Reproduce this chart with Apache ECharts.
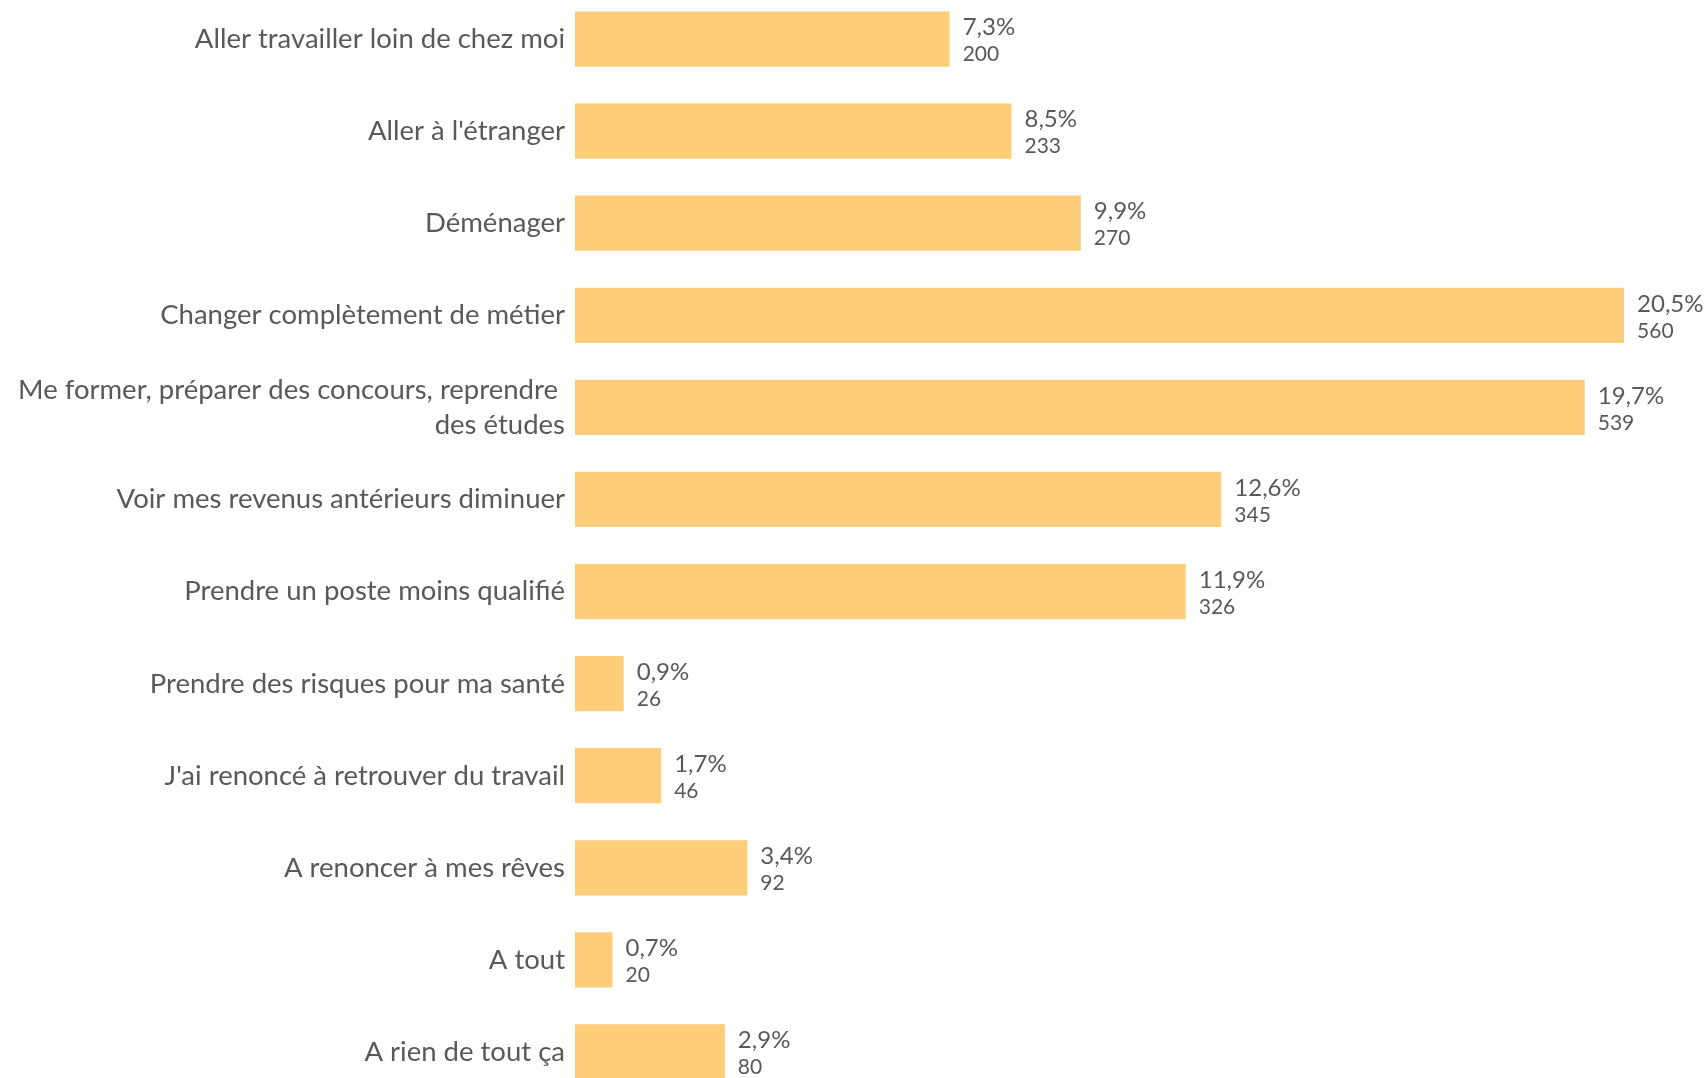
<!DOCTYPE html>
<html><head><meta charset="utf-8">
<script src="https://cdn.jsdelivr.net/npm/echarts@6/dist/echarts.min.js"></script>
<style>html,body{margin:0;padding:0;background:#fff}#c{width:1708px;height:1078px}</style>
</head><body><div id="c"></div>
<script>
const categories = [
  "Aller travailler loin de chez moi",
  "Aller à l'étranger",
  "Déménager",
  "Changer complètement de métier",
  "Me former, préparer des concours, reprendre \ndes études",
  "Voir mes revenus antérieurs diminuer",
  "Prendre un poste moins qualifié",
  "Prendre des risques pour ma santé",
  "J'ai renoncé à retrouver du travail",
  "A renoncer à mes rêves",
  "A tout",
  "A rien de tout ça"
];
const counts = [200, 233, 270, 560, 539, 345, 326, 26, 46, 92, 20, 80];
const percents = ["7,3%", "8,5%", "9,9%", "20,5%", "19,7%", "12,6%", "11,9%", "0,9%", "1,7%", "3,4%", "0,7%", "2,9%"];

const chart = echarts.init(document.getElementById('c'));
chart.setOption({
  animation: false,
  backgroundColor: '#ffffff',
  grid: { left: 575, top: -7, width: 1124, height: 1105, containLabel: false, outerBoundsMode: 'none' },
  xAxis: { type: 'value', min: 0, max: 600, show: false },
  yAxis: {
    type: 'category', inverse: true, data: categories,
    axisLine: { show: false }, axisTick: { show: false },
    axisLabel: { color: '#595959', fontSize: 27.5, fontFamily: 'Lato', margin: 10, align: 'right', lineHeight: 35 }
  },
  series: [{
    type: 'bar',
    data: counts,
    barCategoryGap: '40%',
    itemStyle: { color: '#FECD7A' },
    label: {
      show: true, position: 'right', distance: 13, padding: [4, 0, 0, 0],
      formatter: p => '{a|' + percents[p.dataIndex] + '}\n{b|' + p.value + '}',
      rich: {
        a: { fontSize: 24, color: '#595959', fontFamily: 'Lato', lineHeight: 27 },
        b: { fontSize: 21, color: '#595959', fontFamily: 'Lato', lineHeight: 27 }
      }
    }
  }]
});
</script></body></html>
